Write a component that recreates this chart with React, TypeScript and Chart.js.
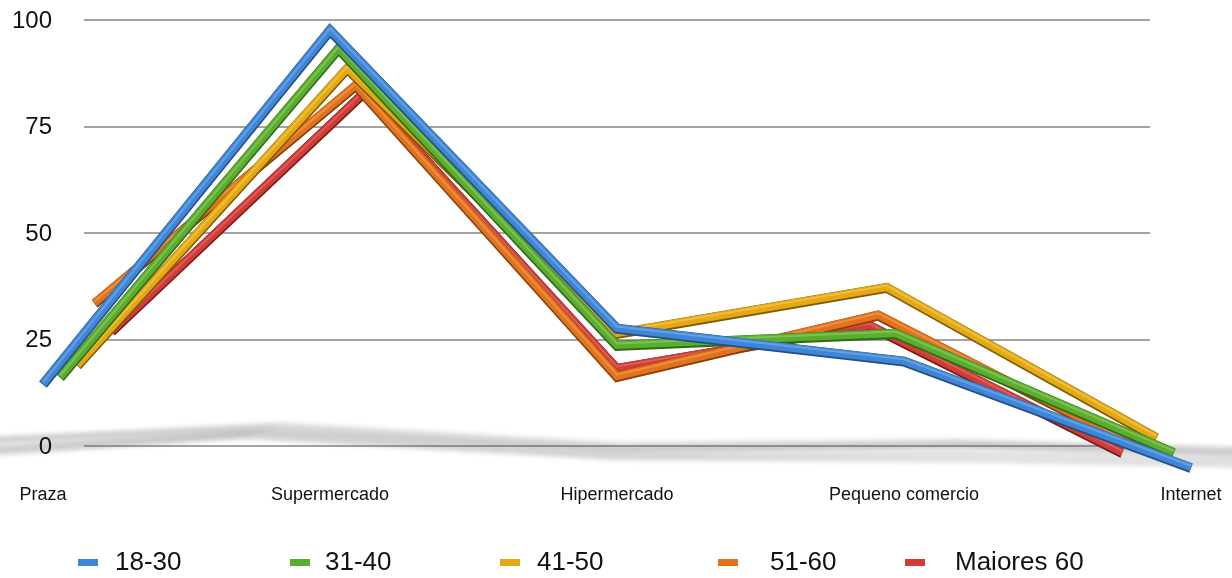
import { useEffect, useRef } from "react";
import { Chart, registerables } from "chart.js";

Chart.register(...registerables);

// Where people shop, by age group (percent)
const categories = ["Praza", "Supermercado", "Hipermercado", "Pequeno comercio", "Internet"];
const seriesLabels = ["18-30", "31-40", "41-50", "51-60", "Maiores 60"];
const age18to30 = [14.6, 97.7, 27.7, 20.0, -5.0];
const age31to40 = [16.2, 93.4, 23.7, 26.5, -1.5];
const age41to50 = [19.0, 88.7, 26.5, 37.3, 2.0];
const age51to60 = [33.6, 84.7, 16.4, 30.8, -0.5];
const over60 = [27.0, 83.1, 18.3, 28.4, -1.5];
const yTicks = [0, 25, 50, 75, 100];

const seriesValues = [age18to30, age31to40, age41to50, age51to60, over60];
const seriesColors = ["#3f86d6", "#5aad2f", "#e3a815", "#e1731d", "#d03c37"];
const edgeColors = ["#234f86", "#2f6a16", "#7f5a00", "#86400c", "#7a1a18"];
const lightColors = ["#8fc0f2", "#a6dd7c", "#ffd96a", "#ffb070", "#f08585"];

// legend layout: swatch and text left edges
const legendSwatchX = [78, 290, 500, 718, 905];
const legendTextX = [115, 325, 537, 770, 955];

const FONT = "'Liberation Sans', Arial, Helvetica, sans-serif";
const DEPTH_STEP = 0.03;

function pathThrough(ctx: CanvasRenderingContext2D, pts: { x: number; y: number }[], dy: number) {
  ctx.beginPath();
  pts.forEach((p, k) => (k === 0 ? ctx.moveTo(p.x, p.y + dy) : ctx.lineTo(p.x, p.y + dy)));
}

// Soft grey floor reflection under the ribbons
const floorPlugin = {
  id: "floor",
  beforeDatasetsDraw(chart: any) {
    const { ctx, chartArea } = chart;
    const cx = (chartArea.left + chartArea.right) / 2;
    const ys = chart.scales.y;
    const zeroY = ys.getPixelForValue(0);
    ctx.save();
    ctx.filter = "blur(2.5px)";
    chart.data.datasets.forEach((ds: any, i: number) => {
      const meta = chart.getDatasetMeta(i);
      const pts = meta.data.map((p: any, k: number) => ({
        x: cx + (p.x - cx) * (1.3 - i * 0.03),
        y: zeroY + 20 - i * 4 - ds.data[k].y * 0.3,
      }));
      pathThrough(ctx, pts, 0);
      ctx.lineWidth = 4;
      ctx.lineJoin = "round";
      ctx.strokeStyle = "rgba(100,100,100,0.28)";
      ctx.stroke();
    });
    ctx.restore();
  },
};

// Depth and bevel for each line ribbon
const ribbonPlugin = {
  id: "ribbon",
  beforeDatasetDraw(chart: any, args: any) {
    const { ctx, chartArea } = chart;
    const cx = (chartArea.left + chartArea.right) / 2;
    const s = 1 - DEPTH_STEP * args.index;
    ctx.save();
    ctx.translate(cx, 0);
    ctx.scale(s, 1);
    ctx.translate(-cx, 0);
    pathThrough(ctx, args.meta.data, 0.8);
    ctx.lineWidth = 10;
    ctx.lineJoin = "miter";
    ctx.strokeStyle = edgeColors[args.index];
    ctx.stroke();
  },
  afterDatasetDraw(chart: any, args: any) {
    const { ctx } = chart;
    pathThrough(ctx, args.meta.data, -1.5);
    ctx.lineWidth = 2;
    ctx.lineJoin = "miter";
    ctx.globalAlpha = 0.45;
    ctx.strokeStyle = lightColors[args.index];
    ctx.stroke();
    ctx.restore();
  },
};

// Value labels, category labels and the legend row
const labelsPlugin = {
  id: "labels",
  afterDraw(chart: any) {
    const { ctx, chartArea } = chart;
    const xs = chart.scales.x;
    const ys = chart.scales.y;
    ctx.save();
    ctx.fillStyle = "#111";
    ctx.textBaseline = "middle";

    ctx.font = `24px ${FONT}`;
    ctx.textAlign = "right";
    yTicks.forEach((v) => ctx.fillText(String(v), chartArea.left - 32, ys.getPixelForValue(v) + 1));

    ctx.font = `18px ${FONT}`;
    ctx.textAlign = "center";
    categories.forEach((c, i) => ctx.fillText(c, xs.getPixelForValue(i), chartArea.bottom + 49));

    const legendY = chartArea.bottom + 116;
    ctx.font = `26px ${FONT}`;
    ctx.textAlign = "left";
    chart.data.datasets.forEach((ds: any, i: number) => {
      ctx.fillStyle = ds.borderColor;
      ctx.fillRect(legendSwatchX[i], legendY - 3, 20, 7);
      ctx.fillStyle = "#111";
      ctx.fillText(ds.label, legendTextX[i], legendY + 1);
    });
    ctx.restore();
  },
};

export default function App() {
  const canvasRef = useRef<HTMLCanvasElement | null>(null);

  useEffect(() => {
    if (!canvasRef.current) return;
    const chart = new Chart(canvasRef.current, {
      type: "line",
      data: {
        datasets: seriesValues.map((vals, i) => ({
          label: seriesLabels[i],
          data: vals.map((v, k) => ({ x: k, y: v })),
          borderColor: seriesColors[i],
          backgroundColor: seriesColors[i],
          borderWidth: 8,
          borderJoinStyle: "miter" as const,
          pointRadius: 0,
          tension: 0,
          clip: false as any,
        })),
      },
      options: {
        animation: false,
        responsive: true,
        maintainAspectRatio: false,
        layout: { padding: { top: 20, right: 82, bottom: 132, left: 0 } },
        plugins: { legend: { display: false }, tooltip: { enabled: false } },
        scales: {
          x: { type: "linear", min: 0.143, max: 3.857, display: false },
          y: {
            min: 0,
            max: 100,
            afterFit: (scale: any) => {
              scale.width = 84;
            },
            afterBuildTicks: (scale: any) => {
              scale.ticks = yTicks.map((v) => ({ value: v }));
            },
            border: { display: false },
            grid: { color: "#a3a3a3", lineWidth: 2, drawTicks: false },
            ticks: { display: false },
          },
        },
      },
      plugins: [floorPlugin, ribbonPlugin, labelsPlugin],
    });
    return () => chart.destroy();
  }, []);

  return (
    <div style={{ position: "absolute", left: 0, top: 0, width: 1232, height: 578, background: "#fff" }}>
      <canvas ref={canvasRef} />
    </div>
  );
}
